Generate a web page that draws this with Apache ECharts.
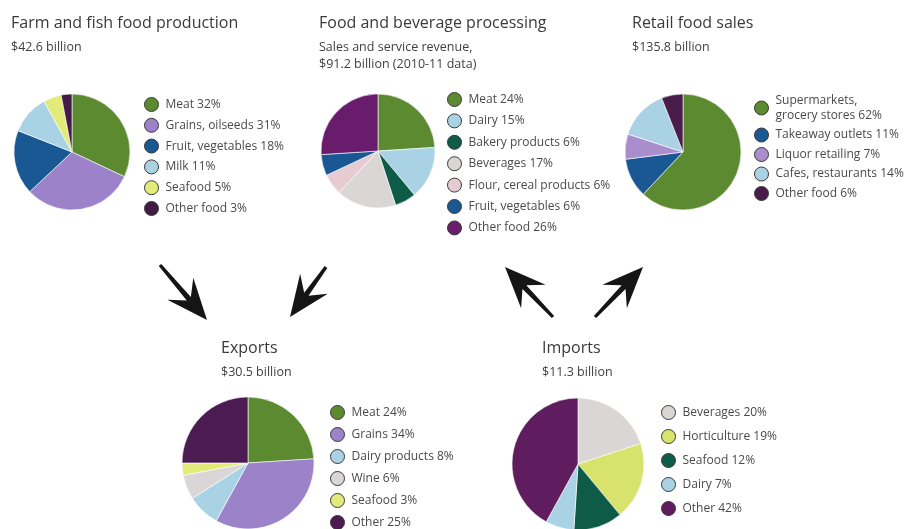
<!DOCTYPE html>
<html>
<head>
<meta charset="utf-8">
<title>Food flows</title>
<script src="https://cdn.jsdelivr.net/npm/echarts@6/dist/echarts.min.js"></script>
<style>
  html, body { margin: 0; padding: 0; background: #fff; }
  #chart { width: 909px; height: 529px; }
</style>
</head>
<body>
<div id="chart"></div>
<script>
// ---- data: category names and percentage shares for each pie ----
const farmCats = ['Meat', 'Grains, oilseeds', 'Fruit, vegetables', 'Milk', 'Seafood', 'Other food'];
const farmShare = [32, 31, 18, 11, 5, 3];

const procCats = ['Meat', 'Dairy', 'Bakery products', 'Beverages', 'Flour, cereal products', 'Fruit, vegetables', 'Other food'];
const procShare = [24, 15, 6, 17, 6, 6, 26];

const retailCats = ['Supermarkets,\ngrocery stores', 'Takeaway outlets', 'Liquor retailing', 'Cafes, restaurants', 'Other food'];
const retailShare = [62, 11, 7, 14, 6];

const exportCats = ['Meat', 'Grains', 'Dairy products', 'Wine', 'Seafood', 'Other'];
const exportShare = [24, 34, 8, 6, 3, 25];

const importCats = ['Beverages', 'Horticulture', 'Seafood', 'Dairy', 'Other'];
const importShare = [20, 19, 12, 7, 42];

// headings
const headings = [
  { title: 'Farm and fish food production', sub: '$42.6 billion' },
  { title: 'Food and beverage processing', sub: 'Sales and service revenue,\n$91.2 billion (2010-11 data)' },
  { title: 'Retail food sales', sub: '$135.8 billion' },
  { title: 'Exports', sub: '$30.5 billion' },
  { title: 'Imports', sub: '$11.3 billion' }
];

// ---- styling ----
const C = {
  meat: '#5b8a30', grain: '#9b82c9', fruit: '#1a5894', lblue: '#a9d3e5',
  yellow: '#e2ea7a', darkPurple: '#431a45', purple: '#6a1c6c', dgreen: '#0e5b47',
  lgray: '#d9d6d5', pink: '#e6cbd3', lavender: '#a98dcd', hort: '#d7e36c'
};
const farmColors = [C.meat, C.grain, C.fruit, C.lblue, C.yellow, C.darkPurple];
const procColors = [C.meat, C.lblue, C.dgreen, C.lgray, C.pink, C.fruit, C.purple];
const retailColors = [C.meat, C.fruit, C.lavender, C.lblue, '#4a1c4a'];
const exportColors = [C.meat, C.grain, C.lblue, C.lgray, C.yellow, '#4c1b52'];
const importColors = [C.lgray, C.hort, C.dgreen, C.lblue, '#5f1d60'];

const FONT = '"Open Sans", "DejaVu Sans", sans-serif';

// layout of each block: pie centre/radius, heading position, legend position
const blocks = [
  { cats: farmCats, share: farmShare, colors: farmColors, center: [72, 152], r: 58,
    head: [11, 14], legend: { left: 144, top: 97, gap: 5.8 } },
  { cats: procCats, share: procShare, colors: procColors, center: [378, 151], r: 57,
    head: [319, 14], legend: { left: 447, top: 92, gap: 6.4 } },
  { cats: retailCats, share: retailShare, colors: retailColors, center: [683, 152], r: 58,
    head: [632, 14], legend: { left: 754, top: 93, gap: 4.5 } },
  { cats: exportCats, share: exportShare, colors: exportColors, center: [248, 463], r: 66,
    head: [221, 339], legend: { left: 330, top: 405, gap: 7 } },
  { cats: importCats, share: importShare, colors: importColors, center: [578, 464], r: 66,
    head: [542, 339], legend: { left: 661, top: 405, gap: 9 } }
];

const titles = [], legends = [], series = [];
blocks.forEach((b, i) => {
  const names = b.cats.map((c, k) => c + ' ' + b.share[k] + '%');
  titles.push({
    text: headings[i].title,
    subtext: headings[i].sub,
    left: b.head[0], top: b.head[1], padding: 0, itemGap: 6,
    textStyle: { fontFamily: FONT, fontSize: 16, fontWeight: 'normal', color: '#3a3a3a', lineHeight: 19 },
    subtextStyle: { fontFamily: FONT, fontSize: 12.5, color: '#3f3f3f', lineHeight: 17 }
  });
  legends.push({
    orient: 'vertical', left: b.legend.left, top: b.legend.top, height: 200, padding: 0,
    itemGap: b.legend.gap, itemWidth: 14, itemHeight: 14, icon: 'circle',
    selectedMode: false, data: names,
    itemStyle: { borderColor: '#3a3a3a', borderWidth: 1 },
    textStyle: { fontFamily: FONT, fontSize: 12, color: '#4a4a4a', lineHeight: 15, padding: [0, 0, 0, 2] }
  });
  series.push({
    type: 'pie', center: b.center, radius: b.r, startAngle: 90, clockwise: true,
    label: { show: false }, labelLine: { show: false }, silent: true,
    emphasis: { disabled: true },
    itemStyle: { borderColor: '#ffffff', borderWidth: 0.6 },
    data: names.map((n, k) => ({ name: n, value: b.share[k], itemStyle: { color: b.colors[k] } }))
  });
});

// flow arrows (tail -> tip) between the blocks
const arrowPaths = [
  [[160, 265], [207, 320]],
  [[326, 267], [290, 317]],
  [[553, 317], [505, 267]],
  [[595, 317], [643, 267]]
];
function arrowPoints(tail, tip) {
  const dx = tip[0] - tail[0], dy = tip[1] - tail[1];
  const len = Math.hypot(dx, dy), ux = dx / len, uy = dy / len;
  const nx = -uy, ny = ux;
  const headLen = 41, half = 17, notch = 28, shaft = 2.7;
  const p = (a, s) => [tip[0] + ux * a + nx * s, tip[1] + uy * a + ny * s];
  return [
    p(0, 0), p(-headLen, half), p(-notch, shaft), p(-len, shaft * 0.6),
    p(-len, -shaft * 0.6), p(-notch, -shaft), p(-headLen, -half)
  ];
}
const graphics = arrowPaths.map(a => ({
  type: 'polygon', shape: { points: arrowPoints(a[0], a[1]) },
  style: { fill: '#151515' }, silent: true
}));

const chart = echarts.init(document.getElementById('chart'), null, { renderer: 'canvas' });
chart.setOption({
  backgroundColor: '#ffffff',
  animation: false,
  title: titles,
  legend: legends,
  series: series,
  graphic: { elements: graphics }
});
</script>
</body>
</html>
